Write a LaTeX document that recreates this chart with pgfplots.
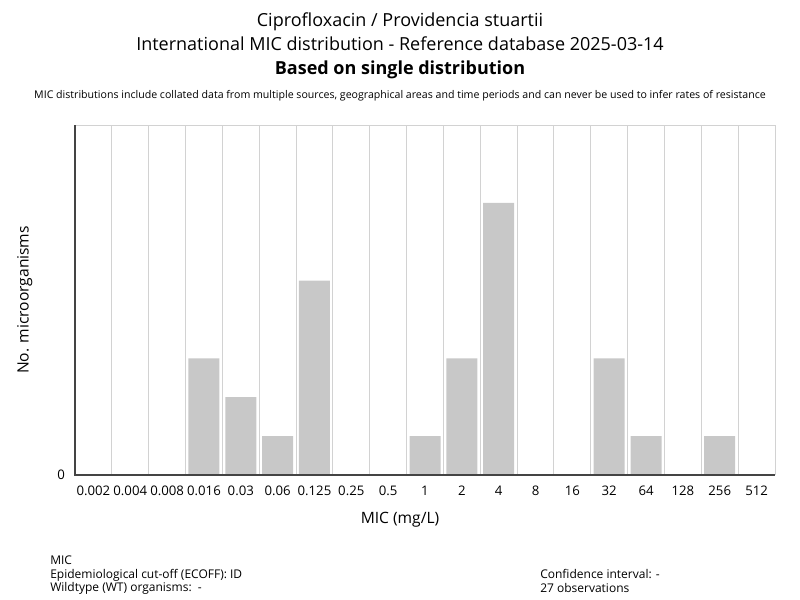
\documentclass[border=0pt]{standalone}
\usepackage{fontspec}
\setmainfont{Open Sans}
\usepackage{pgfplots}
\pgfplotsset{compat=1.18}
\definecolor{barc}{HTML}{C8C8C8}
\definecolor{gridc}{HTML}{D2D2D2}
\definecolor{axc}{HTML}{444444}
\newcommand{\fs}[1]{\fontsize{#1pt}{1.12\dimexpr#1pt\relax}\selectfont}
\begin{document}
\begin{tikzpicture}
\path[use as bounding box] (0pt,0pt) rectangle (600pt,450pt);
\begin{axis}[
  at={(56.25pt,93.75pt)}, anchor=south west,
  scale only axis, width=525pt, height=262.5pt,
  xmin=-0.5, xmax=18.5, ymin=0, ymax=9,
  ybar, bar width=23.25pt, bar shift=0pt,
  xtick={0,...,18},
  xticklabels={0.002,0.004,0.008,0.016,0.03,0.06,0.125,0.25,0.5,1,2,4,8,16,32,64,128,256,512},
  minor xtick={0.5,1.5,...,17.5},
  xminorgrids, minor grid style={gridc, line width=0.75pt},
  ytick={0}, yticklabels={0},
  major tick length=0pt, minor tick length=0pt,
  axis line style={draw=none},
  tick label style={font=\fs{9.9}, text=black},
  /pgf/number format/assume math mode=true,
  xticklabel style={yshift=-5pt},
  yticklabel style={xshift=-4pt},
  ylabel={No. microorganisms}, ylabel style={font=\fs{11.7}, yshift=12pt},
  clip=false,
]
\addplot[fill=barc, draw=none] coordinates {
(0,0) (1,0) (2,0) (3,3) (4,2) (5,1) (6,5) (7,0) (8,0) (9,1) (10,3) (11,7) (12,0) (13,0) (14,3) (15,1) (16,0) (17,1) (18,0)};
\draw[gridc, line width=0.75pt] (axis cs:-0.5,9) -- (axis cs:18.5,9) -- (axis cs:18.5,0);
\draw[axc, line width=1pt] (axis cs:-0.5,9) -- (axis cs:-0.5,0) -- (axis cs:18.5,0);
\end{axis}
\node[font=\fs{11.7}] at (300pt,60pt) {MIC (mg/L)};
\node[font=\fs{13.5}] at (300pt,433.5pt) {Ciprofloxacin / Providencia stuartii};
\node[font=\fs{13.5}] at (300pt,417pt) {International MIC distribution - Reference database 2025-03-14};
\node[font=\fs{13.5}\bfseries] at (300pt,397.5pt) {Based on single distribution};
\node[font=\fs{7.95}] at (300pt,378pt) {MIC distributions include collated data from multiple sources, geographical areas and time periods and can never be used to infer rates of resistance};
\node[font=\fs{9}, anchor=north west, align=left, inner sep=0pt] at (37.5pt,33pt) {MIC\\Epidemiological cut-off (ECOFF): ID\\Wildtype (WT) organisms:\ \ -};
\node[font=\fs{9}, anchor=north west, align=left, inner sep=0pt] at (405pt,23pt) {Confidence interval: -\\27 observations};
\end{tikzpicture}
\end{document}
